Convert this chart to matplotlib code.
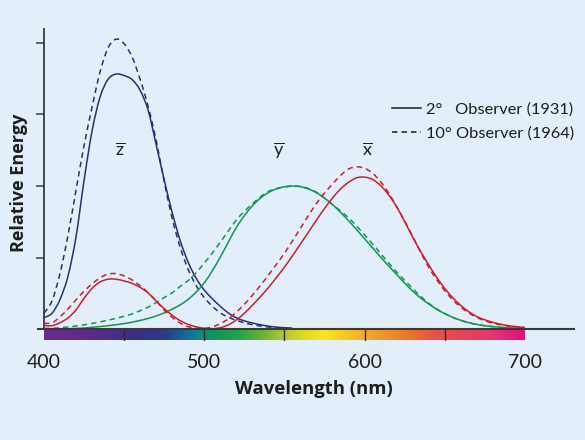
import numpy as np
import matplotlib
matplotlib.use("Agg")
import matplotlib.pyplot as plt
from matplotlib.colors import LinearSegmentedColormap
from matplotlib.lines import Line2D
from matplotlib.path import Path
from matplotlib.patches import PathPatch

# ---------------- data ----------------
wavelength = np.arange(400, 701, 5)

x_2deg = [0.025, 0.023, 0.044, 0.078, 0.134, 0.215, 0.284, 0.329, 0.348, 0.348,
          0.336, 0.319, 0.291, 0.251, 0.195, 0.142, 0.096, 0.058, 0.032, 0.015,
          0.005, 0.002, 0.009, 0.029, 0.063, 0.110, 0.166, 0.226, 0.290, 0.360,
          0.433, 0.512, 0.595, 0.678, 0.762, 0.843, 0.916, 0.979, 1.026, 1.057,
          1.062, 1.046, 1.003, 0.938, 0.854, 0.751, 0.642, 0.542, 0.448, 0.361,
          0.284, 0.219, 0.165, 0.121, 0.087, 0.064, 0.047, 0.033, 0.023, 0.016, 0.011]
y_2deg = [0.000, 0.001, 0.001, 0.002, 0.004, 0.007, 0.012, 0.017, 0.023, 0.030,
          0.038, 0.048, 0.060, 0.074, 0.091, 0.113, 0.139, 0.169, 0.208, 0.259,
          0.323, 0.407, 0.503, 0.608, 0.710, 0.793, 0.862, 0.915, 0.954, 0.980,
          0.995, 1.000, 0.995, 0.979, 0.952, 0.915, 0.870, 0.816, 0.757, 0.695,
          0.631, 0.567, 0.503, 0.441, 0.381, 0.321, 0.265, 0.217, 0.175, 0.138,
          0.107, 0.082, 0.061, 0.045, 0.032, 0.023, 0.017, 0.012, 0.008, 0.006, 0.004]
z_2deg = [0.080, 0.110, 0.207, 0.371, 0.646, 1.039, 1.386, 1.623, 1.747, 1.783,
          1.772, 1.744, 1.669, 1.528, 1.288, 1.042, 0.813, 0.616, 0.465, 0.353,
          0.272, 0.212, 0.158, 0.112, 0.078, 0.057, 0.042, 0.030, 0.020, 0.013,
          0.009, 0.006]

x_10deg = [0.040, 0.043, 0.085, 0.141, 0.204, 0.265, 0.315, 0.358, 0.384, 0.387,
           0.371, 0.343, 0.302, 0.254, 0.196, 0.132, 0.081, 0.041, 0.016, 0.005,
           0.004, 0.015, 0.037, 0.071, 0.118, 0.173, 0.236, 0.304, 0.377, 0.452,
           0.530, 0.616, 0.705, 0.794, 0.879, 0.951, 1.014, 1.074, 1.119, 1.134,
           1.124, 1.089, 1.030, 0.951, 0.856, 0.755, 0.647, 0.535, 0.432, 0.344,
           0.268, 0.204, 0.153, 0.112, 0.081, 0.058, 0.041, 0.029, 0.020, 0.014, 0.010]
y_10deg = [0.004, 0.005, 0.009, 0.014, 0.021, 0.029, 0.039, 0.050, 0.062, 0.075,
           0.089, 0.106, 0.128, 0.153, 0.185, 0.220, 0.254, 0.298, 0.339, 0.395,
           0.461, 0.531, 0.607, 0.686, 0.762, 0.823, 0.875, 0.924, 0.962, 0.982,
           0.992, 0.999, 0.997, 0.982, 0.956, 0.915, 0.869, 0.826, 0.777, 0.720,
           0.658, 0.594, 0.528, 0.462, 0.398, 0.340, 0.283, 0.228, 0.180, 0.140,
           0.108, 0.081, 0.060, 0.044, 0.032, 0.023, 0.016, 0.011, 0.008, 0.005, 0.004]
z_10deg = [0.110, 0.197, 0.389, 0.657, 0.973, 1.283, 1.553, 1.799, 1.967, 2.027,
           1.995, 1.901, 1.745, 1.555, 1.318, 1.030, 0.772, 0.570, 0.415, 0.302,
           0.219, 0.159, 0.112, 0.082, 0.061, 0.043, 0.030, 0.021, 0.014, 0.008,
           0.004, 0.001]

x_ticks = [400, 500, 600, 700]
x_tick_labels = ["400", "500", "600", "700"]
y_ticks = [0.5, 1.0, 1.5, 2.0]
band_edges = [450, 500, 550, 600, 650]
spectrum_stops = [(400, "#6b2a8e"), (430, "#5c2b8c"), (455, "#3b2f84"), (475, "#263c8c"),
                  (488, "#16679e"), (497, "#0d8a8a"), (505, "#0e9462"), (520, "#24a048"),
                  (537, "#6cb238"), (550, "#b4c830"), (562, "#dcdc22"), (575, "#f9e81a"),
                  (590, "#f8c326"), (605, "#f4a22a"), (628, "#ec7626"), (645, "#e8504a"),
                  (660, "#e64457"), (680, "#e43770"), (700, "#e01184")]
curve_labels = [(r"$\overline{\mathregular{z}}$", 447.5), (r"$\overline{\mathregular{y}}$", 546.5),
                (r"$\overline{\mathregular{x}}$", 602.0)]
legend_labels = ["2°   Observer (1931)", "10° Observer (1964)"]

# ---------------- style ----------------
BG = "#e2eef9"
NAVY = "#2c2f72"
RED = "#c8202f"
GREEN = "#129453"
DARK = "#1e1e1e"
FONT = "Lato"
TITLE_FONT = "Open Sans"
plt.rcParams["font.family"] = [FONT, "DejaVu Sans"]
plt.rcParams["mathtext.fontset"] = "custom"
plt.rcParams["mathtext.rm"] = FONT
plt.rcParams["mathtext.it"] = FONT
plt.rcParams["mathtext.default"] = "regular"

W, H = 585, 440
fig = plt.figure(figsize=(W / 100, H / 100), dpi=100, facecolor=BG)

px_left, px_right, px_top, px_bottom = 36.5, 575.0, 29.0, 341.0
ax = fig.add_axes([px_left / W, 1 - px_bottom / H, (px_right - px_left) / W, (px_bottom - px_top) / H])
ax.set_facecolor(BG)
ppn = 1.603  # pixels per nm
ppu = 143.0  # pixels per unit
ax.set_xlim(400 - (44 - px_left) / ppn, 400 + (px_right - 44) / ppn)
ax.set_ylim(-(px_bottom - 329) / ppu, (329 - px_top) / ppu)
y_top = (329 - px_top) / ppu


def smooth_line(axis, xs, ys, **kw):
    """Draw a smooth (Catmull-Rom style) curve through the data points."""
    P = np.column_stack([np.asarray(xs, float), np.asarray(ys, float)])
    Pe = np.vstack([P[0], P, P[-1]])
    verts = [P[0]]
    codes = [Path.MOVETO]
    for i in range(len(P) - 1):
        p0, p1, p2, p3 = Pe[i], Pe[i + 1], Pe[i + 2], Pe[i + 3]
        verts += [p1 + (p2 - p0) / 6.0, p2 - (p3 - p1) / 6.0, p2]
        codes += [Path.CURVE4] * 3
    patch = PathPatch(Path(verts, codes), fill=False, capstyle="butt", joinstyle="round", **kw)
    axis.add_patch(patch)
    return patch


# spectrum bar
cmap = LinearSegmentedColormap.from_list(
    "spec", [((w - 400) / 300, c) for w, c in spectrum_stops])
grad = np.linspace(0, 1, 600).reshape(1, -1)
bar_bottom = -11.5 / ppu
ax.imshow(grad, extent=[400, 700, bar_bottom, 0], aspect="auto", cmap=cmap, zorder=1)
ax.vlines(band_edges, bar_bottom, 0, color="#2a2a2a", lw=1.0, zorder=2)

# curves
dash = (0, (3.6, 2.6))
lw = 1.1
n_z = len(z_2deg)
smooth_line(ax, wavelength[:n_z], z_2deg, edgecolor=NAVY, lw=lw, zorder=3)
smooth_line(ax, wavelength[:n_z], z_10deg, edgecolor=NAVY, lw=lw, ls=dash, zorder=3)
smooth_line(ax, wavelength, y_2deg, edgecolor=GREEN, lw=lw, zorder=3)
smooth_line(ax, wavelength, y_10deg, edgecolor=GREEN, lw=lw, ls=dash, zorder=3)
smooth_line(ax, wavelength, x_2deg, edgecolor=RED, lw=lw, zorder=4)
smooth_line(ax, wavelength, x_10deg, edgecolor=RED, lw=lw, ls=dash, zorder=4)

# axes lines
ax.axhline(0, color="#3a3a3a", lw=1.5, zorder=5)
for s in ["top", "right", "bottom"]:
    ax.spines[s].set_visible(False)
ax.spines["left"].set_position(("data", 400))
ax.spines["left"].set_bounds(0, y_top)
ax.spines["left"].set_color("#3a3a3a")
ax.spines["left"].set_linewidth(1.3)
ax.set_yticks(y_ticks)
ax.tick_params(axis="y", direction="out", length=6, width=1.1, color="#3a3a3a", labelleft=False)
ax.set_xticks(x_ticks)
ax.set_xticklabels(x_tick_labels)
ax.tick_params(axis="x", length=0, pad=9, labelsize=14, labelcolor=DARK)

# curve labels
for txt, wl in curve_labels:
    ax.text(wl, (329 - 150) / ppu, txt, fontsize=13, color=DARK, ha="center", va="center")

# axis titles
fig.text(19 / W, 1 - 183 / H, "Relative Energy", rotation=90, fontsize=13, fontweight="bold",
         family=[TITLE_FONT, "DejaVu Sans"], color=DARK, ha="center", va="center")
fig.text(314 / W, 1 - 389 / H, "Wavelength (nm)", fontsize=13.3, fontweight="bold",
         family=[TITLE_FONT, "DejaVu Sans"], color=DARK, ha="center", va="center")

# legend
legend_styles = ["-", dash]
legend_rows_px = [108, 132]
for label, style, py in zip(legend_labels, legend_styles, legend_rows_px):
    fig.add_artist(Line2D([391.7 / W, 420.7 / W], [1 - py / H, 1 - py / H],
                          color=DARK, lw=1.1, ls=style))
    fig.text(426 / W, 1 - (py + 1.5) / H, label, fontsize=11.8, color=DARK, ha="left", va="center")

fig.savefig("out.png", dpi=100, facecolor=BG)
